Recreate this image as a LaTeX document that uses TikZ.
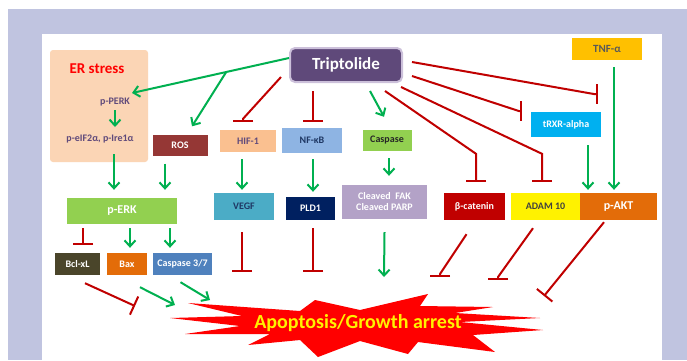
\documentclass[tikz,border=0pt]{standalone}
\usepackage{fontspec}
\setmainfont{Carlito}
\usetikzlibrary{arrows.meta}

\definecolor{framecol}{HTML}{C0C4E0}
\definecolor{actgreen}{HTML}{00B050}
\definecolor{inhred}{HTML}{C00000}
\definecolor{tripfill}{HTML}{5F497A}
\definecolor{tripedge}{HTML}{CCC0DA}
\definecolor{erfill}{HTML}{FBD5B5}
\definecolor{purpletext}{HTML}{604A7B}
\definecolor{navytext}{HTML}{1F3864}

\begin{document}
\begin{tikzpicture}[x=1pt, y=-1pt,
    box/.style={rectangle, inner sep=0pt, text=white, font=\fontsize{10}{11}\selectfont\bfseries},
    lbl/.style={inner sep=0pt, font=\fontsize{10}{11}\selectfont\bfseries},
    act/.style={draw=actgreen, line width=2pt, -{Straight Barb[length=6pt,width=11pt]}},
    inh/.style={draw=inhred, line width=2pt, -{Bar[width=20pt]}}]
    \useasboundingbox (0,0) rectangle (687,360);
    \fill[framecol] (8,9) rectangle (687,360);
    \fill[white] (42,34) rectangle (662,360);

    \node[box, fill=tripfill, draw=tripedge, line width=2pt, rounded corners=5pt, minimum width=112pt, minimum height=34pt, font=\fontsize{17}{19}\selectfont\bfseries] (trip) at (346,65) {Triptolide};
    \node[box, fill=erfill, rounded corners=3pt, minimum width=98pt, minimum height=112pt] (er) at (99,106) {};
    \node[lbl, text=red, font=\fontsize{15}{17}\selectfont\bfseries] (erlbl) at (97,69) {ER stress};
    \node[lbl, text=purpletext] (perk) at (115,102) {p-PERK};
    \node[lbl, text=purpletext] (eif) at (100,139) {p-eIF2α, p-Ire1α};
    \node[box, fill={rgb,255:red,149;green,55;blue,53}, minimum width=55pt, minimum height=21pt] (ros) at (180,145) {ROS};
    \node[box, fill={rgb,255:red,250;green,192;blue,144}, text=purpletext, minimum width=56pt, minimum height=22pt] (hif) at (248,141) {HIF-1};
    \node[box, fill={rgb,255:red,142;green,180;blue,227}, text=navytext, minimum width=60pt, minimum height=25pt] (nfkb) at (312,140.5) {NF-κB};
    \node[box, fill={rgb,255:red,146;green,208;blue,80}, text=black!85, minimum width=49pt, minimum height=21pt] (casp) at (387,140.5) {Caspase};
    \node[box, fill={rgb,255:red,0;green,176;blue,240}, minimum width=70pt, minimum height=25pt] (trxr) at (566,124.5) {tRXR-alpha};
    \node[box, fill={rgb,255:red,255;green,192;blue,0}, text=black!65, minimum width=70pt, minimum height=22pt, font=\fontsize{11}{12}\selectfont\bfseries] (tnf) at (607,49) {TNF-α};

    \node[box, fill={rgb,255:red,146;green,208;blue,80}, minimum width=110pt, minimum height=26pt, font=\fontsize{12}{13}\selectfont\bfseries] (perk2) at (122,211) {p-ERK};
    \node[box, fill={rgb,255:red,75;green,172;blue,198}, text=navytext, minimum width=60pt, minimum height=27pt] (vegf) at (244,206.5) {VEGF};
    \node[box, fill={rgb,255:red,0;green,32;blue,96}, minimum width=49pt, minimum height=23pt] (pld) at (310.5,208.5) {PLD1};
    \node[box, fill={rgb,255:red,179;green,162;blue,199}, minimum width=85pt, minimum height=34pt, align=center] (cleav) at (384.5,202) {Cleaved\ \ FAK\\Cleaved PARP};
    \node[box, fill=inhred, minimum width=61pt, minimum height=27pt] (bcat) at (474.5,206.5) {β-catenin};
    \node[box, fill=yellow, text=black!75, minimum width=69pt, minimum height=27pt] (adam) at (545.5,206.5) {ADAM 10};
    \node[box, fill={rgb,255:red,227;green,108;blue,9}, minimum width=77pt, minimum height=27pt, font=\fontsize{12}{13}\selectfont\bfseries] (pakt) at (618.5,206.5) {p-AKT};

    \node[box, fill={rgb,255:red,74;green,69;blue,42}, minimum width=45pt, minimum height=22pt] (bcl) at (77.5,264) {Bcl-xL};
    \node[box, fill={rgb,255:red,227;green,108;blue,9}, minimum width=40pt, minimum height=22pt] (bax) at (127,264) {Bax};
    \node[box, fill={rgb,255:red,79;green,129;blue,189}, minimum width=59pt, minimum height=22pt] (c37) at (182.5,264) {Caspase 3/7};

    \fill[red] (188,303) -- (300,311) -- (315,300) -- (360,310) -- (428,294) -- (420,306) -- (493,307) -- (455,313) -- (540,318) -- (460,322) -- (543,330) -- (473,335) -- (495,352) -- (418,342) -- (408,354) -- (360,341) -- (318,357) -- (300,340) -- (248,345) -- (270,334) -- (185,334) -- (240,326) -- (170,318) -- (242,316) -- cycle;
    \node[lbl, text=yellow, font=\fontsize{20}{22}\selectfont\bfseries] (apop) at (358,323) {Apoptosis/Growth arrest};

    \draw[act] ([yshift=7pt]trip.west) -- coordinate[pos=0.4] (br) ([xshift=17pt,yshift=9pt]perk.center);
    \draw[act] (br) -- ([xshift=12pt,yshift=8pt]ros.north);
    \draw[act] ([yshift=-8pt]perk.center) -- ([xshift=15pt,yshift=12pt]eif.center);
    \draw[act] ([xshift=15pt,yshift=8pt]er.south) -- ([xshift=-8pt,yshift=8pt]perk2.north);
    \draw[act] ([xshift=-15pt,yshift=-8pt]ros.south) -- ([xshift=43pt,yshift=8pt]perk2.north);
    \draw[act] ([xshift=-6pt,yshift=-7pt]hif.south) -- ([xshift=-2pt,yshift=3pt]vegf.north);
    \draw[act] ([xshift=1pt,yshift=-6pt]nfkb.south) -- ([xshift=2.5pt,yshift=5pt]pld.north);
    \draw[act] ([xshift=24pt,yshift=-8pt]trip.south) -- ([xshift=-3pt,yshift=13pt]casp.north);
    \draw[act] ([xshift=2pt,yshift=-7pt]casp.south) -- ([xshift=4.5pt,yshift=9pt]cleav.north);
    \draw[act] ([xshift=22pt,yshift=-8pt]trxr.south) -- ([xshift=-30.5pt,yshift=3pt]pakt.north);
    \draw[act] ([xshift=7pt,yshift=-7pt]tnf.south) -- ([xshift=-4.5pt,yshift=3pt]pakt.north);
    \draw[act] ([xshift=8pt,yshift=-4pt]perk2.south) -- ([xshift=3pt,yshift=5pt]bax.north);
    \draw[act] ([xshift=48pt,yshift=-4pt]perk2.south) -- ([xshift=-12.5pt,yshift=5pt]c37.north);
    \draw[act] ([xshift=13pt,yshift=-12pt]bax.south) -- ([xshift=-183pt,yshift=18pt]apop.center);
    \draw[act] ([xshift=-2pt,yshift=-7pt]c37.south) -- ([xshift=-148pt,yshift=23pt]apop.center);
    \draw[act] ([yshift=-13pt]cleav.south) -- ([xshift=26pt,yshift=46pt]apop.center);

    \draw[inh] ([xshift=-8pt,yshift=-12pt]trip.west) -- ([xshift=-5pt,yshift=11pt]hif.north) -- ([xshift=-5pt,yshift=8pt]hif.north);
    \draw[inh] ([xshift=-33pt,yshift=-8pt]trip.south) -- ([xshift=1pt,yshift=6pt]nfkb.north);
    \draw[inh] ([xshift=9pt,yshift=-11pt]trip.east) -- ([xshift=-12pt,yshift=13.5pt]trxr.west) -- ([xshift=-9pt,yshift=13.5pt]trxr.west);
    \draw[inh] ([xshift=9pt,yshift=3pt]trip.east) -- ([xshift=-12pt,yshift=-34pt]tnf.south) -- ([xshift=-9pt,yshift=-34pt]tnf.south);
    \draw[inh] ([xshift=39pt,yshift=-8pt]trip.south) -- ([xshift=1.5pt,yshift=39pt]bcat.north) -- ([xshift=1.5pt,yshift=11pt]bcat.north);
    \draw[inh] ([xshift=-2pt,yshift=-4pt]trip.south east) -- ([xshift=-3.5pt,yshift=39pt]adam.north) -- ([xshift=-3.5pt,yshift=11pt]adam.north);
    \draw[inh] ([xshift=-39pt,yshift=-4pt]perk2.south) -- ([xshift=5.5pt,yshift=8pt]bcl.north);
    \draw[inh] ([xshift=-2pt,yshift=-12pt]vegf.south) -- ([xshift=-116pt,yshift=51pt]apop.center);
    \draw[inh] ([xshift=2.5pt,yshift=-8pt]pld.south) -- ([xshift=-45pt,yshift=51pt]apop.center);
    \draw[inh] ([xshift=7.5pt,yshift=-8pt]bcl.south) -- ([xshift=-223pt,yshift=17pt]apop.center);
    \draw[inh] ([xshift=-8pt,yshift=-14pt]bcat.south) -- ([xshift=82pt,yshift=49pt]apop.center) -- ([xshift=82pt,yshift=46pt]apop.center);
    \draw[inh] ([xshift=-12.5pt,yshift=-8pt]adam.south) -- ([xshift=140pt,yshift=46pt]apop.center) -- ([xshift=140pt,yshift=43pt]apop.center);
    \draw[inh] ([xshift=-14.5pt,yshift=-2pt]pakt.south) -- ([xshift=186pt,yshift=27pt]apop.center);
\end{tikzpicture}
\end{document}
